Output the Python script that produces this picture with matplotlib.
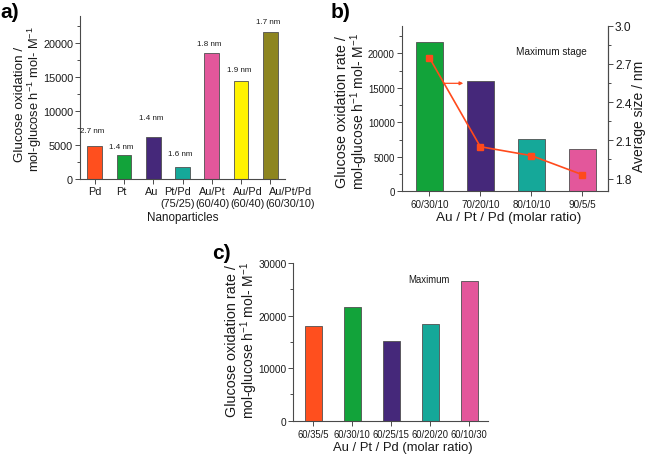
import matplotlib
matplotlib.use("Agg")
import matplotlib.pyplot as plt
from matplotlib.ticker import MultipleLocator

plt.rcParams['font.family'] = ['Liberation Sans', 'DejaVu Sans']
plt.rcParams['mathtext.fontset'] = 'custom'
plt.rcParams['mathtext.rm'] = 'Liberation Sans'
plt.rcParams['mathtext.it'] = 'Liberation Sans:italic'
plt.rcParams['mathtext.default'] = 'regular'

# ---------------- data ----------------
# panel a
a_labels = ["Pd", "Pt", "Au", "Pt/Pd\n(75/25)", "Au/Pt\n(60/40)", "Au/Pd\n(60/40)", "Au/Pt/Pd\n(60/30/10)"]
a_values = [4800, 3500, 6200, 1800, 18540, 14410, 21640]
a_sizes = ["2.7 nm", "1.4 nm", "1.4 nm", "1.6 nm", "1.8 nm", "1.9 nm", "1.7 nm"]
a_colors = ["#FF4F1E", "#12A33A", "#45287A", "#15A899", "#E3579B", "#FFF200", "#8D8520"]

# panel b
b_labels = ["60/30/10", "70/20/10", "80/10/10", "90/5/5"]
b_values = [21590, 15940, 7580, 6130]
b_size = [2.75, 2.05, 1.98, 1.83]
b_colors = ["#12A33A", "#45287A", "#15A899", "#E3579B"]

# panel c
c_labels = ["60/35/5", "60/30/10", "60/25/15", "60/20/20", "60/10/30"]
c_values = [18000, 21640, 15130, 18460, 26610]
c_colors = ["#FF4F1E", "#12A33A", "#45287A", "#15A899", "#E3579B"]

W, H = 647, 456
fig = plt.figure(figsize=(W / 100, H / 100), dpi=100)

def rect(l, r, t, b):
    return [l / W, 1 - b / H, (r - l) / W, (b - t) / H]

SPINE = "#4a4a4a"
TXT = "#1a1a1a"
EDGE = "#505050"

def style(ax, right=False):
    for s in ["top"] + ([] if right else ["right"]):
        ax.spines[s].set_visible(False)
    for s in ax.spines.values():
        s.set_color(SPINE)
        s.set_linewidth(0.8)
    ax.tick_params(which="both", direction="out", color=SPINE, labelcolor=TXT, width=0.7)
    ax.tick_params(which="major", length=3.5)
    ax.tick_params(which="minor", length=2)

ylab1 = "Glucose oxidation /"
ylab2 = "mol-glucose h$^{-1}$ mol- M$^{-1}$"
ylab1r = "Glucose oxidation rate /"

# ---------------- panel a ----------------
axa = fig.add_axes(rect(80, 285, 17, 180))
xa = list(range(len(a_values)))
axa.bar(xa, a_values, width=0.5, color=a_colors, edgecolor=EDGE, linewidth=0.6)
axa.set_xlim(-0.5, 6.5)
axa.set_ylim(0, 24000)
axa.yaxis.set_major_locator(MultipleLocator(5000))
axa.yaxis.set_minor_locator(MultipleLocator(2500))
axa.set_xticks(xa)
axa.set_xticklabels([""] * len(xa))
axa.tick_params(axis="y", labelsize=7.8, pad=1.5)
style(axa)
# category labels are nudged sideways in the original so they do not collide
a_label_shift = [0.0, -0.08, -0.06, -0.18, 0.02, 0.22, 0.69]
for x, lab, d in zip(xa, a_labels, a_label_shift):
    axa.text(x + d, -0.04, lab, transform=axa.get_xaxis_transform(), ha="center", va="top",
             fontsize=7.8, linespacing=1.3, color=TXT, clip_on=False)
a_off = [2300, 1300, 2900, 1900, 1350, 1700, 1600]
for x, v, s, o in zip(xa, a_values, a_sizes, a_off):
    axa.text(x - 0.08, v + o, s, ha="center", va="center", fontsize=5.8, color=TXT)
axa.set_xlabel("Nanoparticles", fontsize=8.4, color=TXT)
axa.xaxis.label.set_va("center")
axa.xaxis.set_label_coords(0.5, -(218 - 180) / 163)
fig.text(20 / W, 1 - 104 / H, ylab1, rotation=90, ha="center", va="center", fontsize=9.7, color=TXT)
fig.text(35 / W, 1 - 99 / H, ylab2, rotation=90, ha="center", va="center", fontsize=9.3, color=TXT)
fig.text(0 / W, 1 - 12 / H, "a)", fontsize=15, fontweight="bold", ha="left", va="center", color="black")

# ---------------- panel b ----------------
axb = fig.add_axes(rect(401.7, 608, 26.7, 192.3))
xb = list(range(len(b_values)))
axb.bar(xb, b_values, width=0.52, color=b_colors, edgecolor=EDGE, linewidth=0.6)
axb.set_xlim(-0.54, 3.5)
axb.set_ylim(0, 24000)
axb.yaxis.set_major_locator(MultipleLocator(5000))
axb.yaxis.set_minor_locator(MultipleLocator(2500))
axb.set_xticks(xb)
axb.set_xticklabels(b_labels, fontsize=7.1)
axb.tick_params(axis="y", labelsize=6.9, pad=1.5)
axb.tick_params(axis="x", pad=2)
style(axb, right=True)
axb.set_xlabel("Au / Pt / Pd (molar ratio)", fontsize=9.7, color=TXT)
axb.xaxis.label.set_va("center")
axb.xaxis.set_label_coords(0.52, -(218 - 192.3) / 165.6)
axb.text(2.4, 20380, "Maximum stage", fontsize=7.2, ha="center", va="center", color=TXT)
axb.annotate("", xy=(0.72, 15650), xytext=(0.22, 15650),
             arrowprops=dict(arrowstyle="-|>", color="#FF4A1C", lw=0.9, mutation_scale=5))
axb2 = axb.twinx()
axb2.plot(xb, b_size, color="#FF4A1C", lw=1.2, marker="s", ms=4.2,
          markerfacecolor="#FF4A1C", markeredgecolor="#FF4A1C")
axb2.set_ylim(1.7, 3.0)
axb2.set_yticks([1.8, 2.1, 2.4, 2.7, 3.0])
axb2.set_yticklabels(["1.8", "2.1", "2.4", "2.7", "3.0"])
axb2.yaxis.set_minor_locator(MultipleLocator(0.15))
for s in ["top", "left", "bottom"]:
    axb2.spines[s].set_visible(False)
axb2.spines["right"].set_color(SPINE)
axb2.spines["right"].set_linewidth(0.8)
axb2.tick_params(which="both", direction="out", color=SPINE, labelcolor=TXT, width=0.7)
axb2.tick_params(which="major", length=3.5, labelsize=8.6, pad=1.5)
axb2.tick_params(which="minor", length=2)
fig.text(639 / W, 1 - 116 / H, "Average size / nm", rotation=90, ha="center", va="center",
         fontsize=10.0, color=TXT)
fig.text(342 / W, 1 - 112 / H, ylab1r, rotation=90, ha="center", va="center", fontsize=10.4, color=TXT)
fig.text(359.5 / W, 1 - 112 / H, ylab2, rotation=90, ha="center", va="center", fontsize=10.0, color=TXT)
fig.text(331 / W, 1 - 12 / H, "b)", fontsize=15, fontweight="bold", ha="left", va="center", color="black")

# ---------------- panel c ----------------
axc = fig.add_axes(rect(293.3, 488, 264, 421.7))
xc = list(range(len(c_values)))
axc.bar(xc, c_values, width=0.43, color=c_colors, edgecolor=EDGE, linewidth=0.6)
axc.set_xlim(-0.51, 4.48)
axc.set_ylim(0, 30000)
axc.yaxis.set_major_locator(MultipleLocator(10000))
axc.yaxis.set_minor_locator(MultipleLocator(5000))
axc.set_xticks(xc)
axc.set_xticklabels(c_labels, fontsize=6.85)
axc.tick_params(axis="y", labelsize=7.3, pad=1.5)
axc.tick_params(axis="x", pad=2.5)
style(axc)
axc.text(2.97, 27000, "Maximum", fontsize=6.9, ha="center", va="center", color=TXT)
axc.set_xlabel("Au / Pt / Pd (molar ratio)", fontsize=9.4, color=TXT)
axc.xaxis.label.set_va("center")
axc.xaxis.set_label_coords(0.56, -(448 - 421.7) / 157.7)
fig.text(232.5 / W, 1 - 341 / H, ylab1r, rotation=90, ha="center", va="center", fontsize=10.4, color=TXT)
fig.text(249.5 / W, 1 - 341 / H, ylab2, rotation=90, ha="center", va="center", fontsize=10.0, color=TXT)
fig.text(212 / W, 1 - 254 / H, "c)", fontsize=15, fontweight="bold", ha="left", va="center", color="black")

fig.savefig("out.png", dpi=100)
